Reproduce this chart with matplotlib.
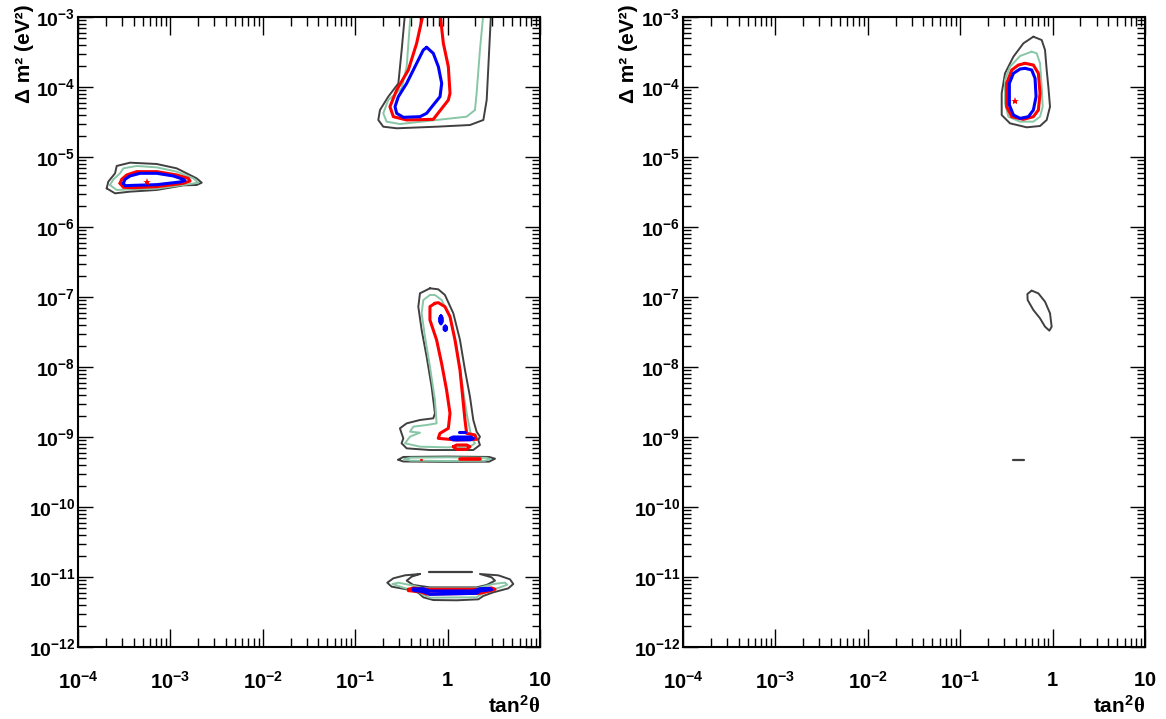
import numpy as np
import matplotlib
matplotlib.use("Agg")
import matplotlib.pyplot as plt
from matplotlib.ticker import LogLocator, FixedLocator, FuncFormatter, NullFormatter

plt.rcParams['font.family'] = ['Liberation Sans', 'DejaVu Sans']
plt.rcParams['font.weight'] = 'bold'
plt.rcParams['mathtext.fontset'] = 'custom'
plt.rcParams['mathtext.rm'] = 'Liberation Serif'
plt.rcParams['mathtext.bf'] = 'Liberation Sans:bold'
plt.rcParams['mathtext.it'] = 'Liberation Sans:italic:bold'
plt.rcParams['mathtext.default'] = 'bf'

# all contour vertices are log10(tan^2 theta), log10(dm^2 / eV^2)

# ---- left panel ----
# small-angle island
sma_black_x = [-3.690, -3.672, -3.599, -3.581, -3.437, -3.148, -2.932, -2.716, -2.661, -2.716, -2.860, -3.148, -3.437, -3.599, -3.690]
sma_black_y = [-5.448, -5.352, -5.233, -5.128, -5.081, -5.100, -5.162, -5.305, -5.367, -5.400, -5.405, -5.471, -5.495, -5.519, -5.448]
sma_green_x = [-3.654, -3.617, -3.545, -3.509, -3.365, -3.148, -2.932, -2.752, -2.698, -2.788, -3.148, -3.437, -3.581, -3.654]
sma_green_y = [-5.400, -5.319, -5.233, -5.162, -5.128, -5.148, -5.209, -5.305, -5.367, -5.386, -5.452, -5.462, -5.471, -5.400]
sma_red_x = [-3.545, -3.527, -3.473, -3.365, -3.148, -2.932, -2.806, -2.788, -2.860, -3.148, -3.401, -3.509, -3.545]
sma_red_y = [-5.376, -5.319, -5.257, -5.209, -5.209, -5.257, -5.305, -5.343, -5.376, -5.424, -5.438, -5.433, -5.376]
sma_blue_x = [-3.509, -3.491, -3.437, -3.329, -3.148, -2.968, -2.860, -2.842, -2.896, -3.148, -3.401, -3.491, -3.509]
sma_blue_y = [-5.376, -5.319, -5.271, -5.233, -5.233, -5.271, -5.319, -5.338, -5.357, -5.395, -5.405, -5.410, -5.376]
sma_best = (-3.250, -5.352)

# large-angle region, open above 1e-3
lma_black_x = [-0.461, -0.497, -0.533, -0.642, -0.732, -0.750, -0.696, -0.551, -0.118, 0.242, 0.387, 0.423, 0.441, 0.459, 0.470]
lma_black_y = [-2.947, -3.471, -3.948, -4.138, -4.329, -4.471, -4.567, -4.590, -4.567, -4.543, -4.471, -4.186, -3.710, -3.233, -2.947]
lma_green_x = [-0.400, -0.443, -0.497, -0.642, -0.696, -0.660, -0.515, -0.118, 0.206, 0.296, 0.314, 0.350, 0.387]
lma_green_y = [-2.947, -3.710, -4.019, -4.186, -4.376, -4.495, -4.529, -4.471, -4.424, -4.329, -4.090, -3.471, -2.947]
lma_red_x = [-0.263, -0.335, -0.425, -0.551, -0.624, -0.587, -0.443, -0.155, 0.008, 0.026, 0.008, -0.046, -0.082]
lma_red_y = [-2.947, -3.376, -3.757, -4.043, -4.281, -4.424, -4.471, -4.462, -4.186, -4.090, -3.710, -3.376, -2.947]
lma_blue_x = [-0.227, -0.155, -0.100, -0.064, -0.082, -0.155, -0.227, -0.299, -0.479, -0.551, -0.569, -0.533, -0.443, -0.335, -0.263, -0.227]
lma_blue_y = [-3.433, -3.519, -3.710, -3.948, -4.138, -4.257, -4.376, -4.424, -4.433, -4.376, -4.281, -4.138, -3.948, -3.662, -3.471, -3.433]

# LOW region tongue
low_black_x = [-0.191, -0.299, -0.317, -0.281, -0.227, -0.173, -0.137, -0.155, -0.299, -0.443, -0.516, -0.498, -0.479, -0.498, -0.443, -0.191,
               0.278, 0.350, 0.332, 0.350, 0.314, 0.278, 0.242, 0.188, 0.134, 0.062, -0.029, -0.101, -0.191]
low_black_y = [-6.876, -6.947, -7.138, -7.471, -7.852, -8.281, -8.662, -8.733, -8.757, -8.805, -8.876, -8.948, -9.019, -9.090, -9.162, -9.186,
               -9.186, -9.114, -9.043, -8.995, -8.924, -8.757, -8.424, -8.043, -7.614, -7.233, -6.971, -6.890, -6.876]
low_green_x = [-0.191, -0.263, -0.281, -0.245, -0.191, -0.137, -0.119, -0.227, -0.371, -0.407, -0.299, -0.407, -0.461, -0.299, -0.011,
               0.242, 0.296, 0.260, 0.242, 0.206, 0.152, 0.098, 0.026, -0.065, -0.137, -0.191]
low_green_y = [-6.971, -7.043, -7.233, -7.567, -7.995, -8.471, -8.805, -8.829, -8.852, -8.924, -8.938, -8.995, -9.090, -9.138, -9.148,
               -9.138, -9.090, -9.019, -8.900, -8.662, -8.186, -7.710, -7.281, -7.043, -6.971, -6.971]
low_red_x = [-0.137, -0.191, -0.191, -0.119, -0.065, -0.011, 0.026, 0.008, -0.083, -0.101, 0.098, 0.314, 0.296, 0.206, 0.188, 0.163,
             0.134, 0.080, 0.026, -0.029, -0.101, -0.137]
low_red_y = [-7.090, -7.138, -7.329, -7.614, -7.948, -8.329, -8.662, -8.876, -8.948, -9.019, -9.043, -9.033, -8.971, -8.948, -8.757, -8.424,
             -8.043, -7.614, -7.281, -7.138, -7.081, -7.090]
low_red_loop_x = [0.062, 0.098, 0.206, 0.242, 0.206, 0.098, 0.062]
low_red_loop_y = [-9.138, -9.114, -9.114, -9.138, -9.176, -9.176, -9.138]
low_blue_blob1_x = [-0.072, -0.058, -0.057, -0.072, -0.086, -0.087, -0.072]
low_blue_blob1_y = [-7.270, -7.300, -7.350, -7.385, -7.350, -7.300, -7.270]
low_blue_blob2_x = [-0.025, -0.012, -0.012, -0.025, -0.038, -0.038, -0.025]
low_blue_blob2_y = [-7.415, -7.430, -7.465, -7.480, -7.465, -7.430, -7.415]
low_blue_bar_x = [0.030, 0.060, 0.250, 0.280, 0.250, 0.060, 0.030]
low_blue_bar_y = [-9.019, -9.000, -9.000, -9.019, -9.040, -9.040, -9.019]
low_blue_dash_x = [0.127, 0.188]
low_blue_dash_y = [-8.924, -8.924]

# thin strip just below 1e-9
strip_black_x = [-0.534, -0.480, 0.000, 0.450, 0.513, 0.450, 0.000, -0.480, -0.534]
strip_black_y = [-9.325, -9.285, -9.279, -9.285, -9.310, -9.352, -9.355, -9.350, -9.325]
strip_green_x = [-0.470, -0.400, 0.000, 0.420, 0.460, 0.400, 0.000, -0.400, -0.470]
strip_green_y = [-9.318, -9.295, -9.290, -9.298, -9.315, -9.340, -9.343, -9.338, -9.318]
strip_red_x = [0.134, 0.350]
strip_red_y = [-9.319, -9.319]
strip_red_dot_x = [-0.286, -0.276]
strip_red_dot_y = [-9.326, -9.326]

# vacuum oscillation region near 1e-11
vac_black_x = [-0.299, -0.461, -0.588, -0.653, -0.606, -0.443, -0.317, -0.263, -0.155, 0.098, 0.332, 0.386, 0.495, 0.657, 0.711, 0.675,
               0.549, 0.350, 0.477, 0.513, 0.422, 0.314, -0.191, -0.371, -0.443, -0.389, -0.299]
vac_black_y = [-10.957, -10.976, -11.019, -11.081, -11.138, -11.176, -11.224, -11.290, -11.329, -11.333, -11.319, -11.271, -11.219, -11.162,
               -11.100, -11.033, -10.976, -10.957, -11.005, -11.052, -11.114, -11.148, -11.148, -11.114, -11.052, -10.995, -10.957]
vac_black_dash_x = [-0.198, 0.260]
vac_black_dash_y = [-10.929, -10.929]
vac_green_x = [-0.595, -0.534, -0.371, -0.263, 0.314, 0.495, 0.621, 0.646, 0.567, 0.422, 0.350, 0.314, -0.191, -0.263, -0.317, -0.479, -0.595]
vac_green_y = [-11.100, -11.081, -11.124, -11.162, -11.162, -11.100, -11.081, -11.110, -11.148, -11.210, -11.257, -11.290, -11.295, -11.257,
               -11.210, -11.152, -11.100]
vac_red_x = [-0.425, -0.371, -0.227, 0.350, 0.477, 0.513, 0.458, 0.350, -0.227, -0.299, -0.425, -0.425]
vac_red_y = [-11.176, -11.157, -11.176, -11.176, -11.157, -11.176, -11.200, -11.233, -11.243, -11.210, -11.195, -11.176]
vac_blue_x = [-0.371, -0.263, -0.191, 0.278, 0.350, 0.458, 0.477, 0.350, 0.314, -0.191, -0.263, -0.371, -0.371]
vac_blue_y = [-11.171, -11.167, -11.200, -11.200, -11.167, -11.162, -11.181, -11.200, -11.233, -11.248, -11.210, -11.190, -11.171]

# ---- right panel ----
r_lma_black_x = [-0.208, -0.118, -0.082, -0.064, -0.046, -0.028, -0.064, -0.136, -0.280, -0.461, -0.551, -0.551, -0.515, -0.424, -0.316, -0.208]
r_lma_black_y = [-3.281, -3.329, -3.471, -3.757, -3.995, -4.281, -4.471, -4.557, -4.576, -4.519, -4.400, -4.090, -3.805, -3.567, -3.376, -3.281]
r_lma_green_x = [-0.226, -0.172, -0.136, -0.118, -0.107, -0.136, -0.208, -0.352, -0.479, -0.515, -0.515, -0.461, -0.352, -0.226]
r_lma_green_y = [-3.495, -3.519, -3.662, -3.995, -4.281, -4.424, -4.495, -4.495, -4.424, -4.233, -3.900, -3.710, -3.557, -3.495]
r_lma_red_x = [-0.298, -0.208, -0.154, -0.136, -0.154, -0.208, -0.316, -0.442, -0.497, -0.497, -0.442, -0.370, -0.298]
r_lma_red_y = [-3.662, -3.686, -3.805, -4.090, -4.329, -4.424, -4.462, -4.424, -4.281, -3.948, -3.757, -3.686, -3.662]
r_lma_blue_x = [-0.298, -0.226, -0.190, -0.179, -0.208, -0.262, -0.352, -0.424, -0.468, -0.468, -0.424, -0.352, -0.298]
r_lma_blue_y = [-3.733, -3.757, -3.876, -4.138, -4.329, -4.424, -4.448, -4.400, -4.257, -3.948, -3.805, -3.743, -3.733]
r_best = (-0.406, -4.195)
r_low_black_x = [-0.226, -0.154, -0.082, -0.028, -0.010, -0.035, -0.082, -0.136, -0.208, -0.270, -0.273, -0.226]
r_low_black_y = [-6.909, -6.948, -7.067, -7.233, -7.424, -7.481, -7.424, -7.305, -7.186, -7.043, -6.957, -6.909]
r_dash_x = [-0.432, -0.309]
r_dash_y = [-9.329, -9.329]

BLACK = '#404040'
GREEN = '#88c6a6'
RED = '#ff0000'
BLUE = '#0000ff'


def draw(ax, xs, ys, color, lw):
    ax.plot(np.power(10.0, xs), np.power(10.0, ys), color=color, lw=lw,
            solid_joinstyle='round', solid_capstyle='round')


def dec_label(v, pos):
    e = int(round(np.log10(v)))
    if e == 0:
        return r'$1$'
    if e == 1:
        return r'$10$'
    return r'$10^{%d}$' % e


fig = plt.figure(figsize=(11.66, 7.19), dpi=100)
W, H = 1166.0, 719.0
ax_l = fig.add_axes([78 / W, 1 - 647 / H, 462 / W, 630 / H])
ax_r = fig.add_axes([683 / W, 1 - 647 / H, 462 / W, 630 / H])

for ax in (ax_l, ax_r):
    ax.set_xscale('log')
    ax.set_yscale('log')
    ax.set_xlim(1e-4, 10)
    ax.set_ylim(1e-12, 1e-3)
    ax.xaxis.set_major_locator(FixedLocator([1e-4, 1e-3, 1e-2, 1e-1, 1, 10]))
    ax.yaxis.set_major_locator(FixedLocator([10.0 ** e for e in range(-12, -2)]))
    ax.xaxis.set_minor_locator(LogLocator(base=10, subs=np.arange(2, 10), numticks=20))
    ax.yaxis.set_minor_locator(LogLocator(base=10, subs=np.arange(2, 10), numticks=20))
    ax.xaxis.set_major_formatter(FuncFormatter(dec_label))
    ax.yaxis.set_major_formatter(FuncFormatter(dec_label))
    ax.xaxis.set_minor_formatter(NullFormatter())
    ax.yaxis.set_minor_formatter(NullFormatter())
    ax.tick_params(which='both', direction='in', top=True, right=True, width=1.0, color='black')
    ax.tick_params(axis='x', which='major', length=13, pad=17, labelsize=14.5)
    ax.tick_params(axis='x', which='minor', length=6.5)
    ax.tick_params(axis='y', which='major', length=11, pad=2, labelsize=14)
    ax.tick_params(axis='y', which='minor', length=5.8)
    for s in ax.spines.values():
        s.set_linewidth(1.5)

# left panel
draw(ax_l, sma_black_x, sma_black_y, BLACK, 1.4)
draw(ax_l, sma_green_x, sma_green_y, GREEN, 1.4)
draw(ax_l, sma_red_x, sma_red_y, RED, 2.2)
draw(ax_l, sma_blue_x, sma_blue_y, BLUE, 2.2)
ax_l.plot(10 ** sma_best[0], 10 ** sma_best[1], marker='*', color=RED, ms=6, mew=0, zorder=5)

draw(ax_l, lma_black_x, lma_black_y, BLACK, 1.4)
draw(ax_l, lma_green_x, lma_green_y, GREEN, 1.4)
draw(ax_l, lma_red_x, lma_red_y, RED, 2.2)
draw(ax_l, lma_blue_x, lma_blue_y, BLUE, 2.2)

draw(ax_l, low_black_x, low_black_y, BLACK, 1.4)
draw(ax_l, low_green_x, low_green_y, GREEN, 1.4)
draw(ax_l, low_red_x, low_red_y, RED, 2.2)
draw(ax_l, low_red_loop_x, low_red_loop_y, RED, 2.2)
draw(ax_l, low_blue_blob1_x, low_blue_blob1_y, BLUE, 2.2)
draw(ax_l, low_blue_blob2_x, low_blue_blob2_y, BLUE, 2.2)
draw(ax_l, low_blue_bar_x, low_blue_bar_y, BLUE, 2.2)
draw(ax_l, low_blue_dash_x, low_blue_dash_y, BLUE, 2.2)

draw(ax_l, strip_black_x, strip_black_y, BLACK, 1.4)
draw(ax_l, strip_green_x, strip_green_y, GREEN, 1.4)
draw(ax_l, strip_red_x, strip_red_y, RED, 2.6)
draw(ax_l, strip_red_dot_x, strip_red_dot_y, RED, 1.5)

draw(ax_l, vac_black_x, vac_black_y, BLACK, 1.4)
draw(ax_l, vac_black_dash_x, vac_black_dash_y, BLACK, 1.6)
draw(ax_l, vac_green_x, vac_green_y, GREEN, 1.4)
draw(ax_l, vac_red_x, vac_red_y, RED, 2.2)
draw(ax_l, vac_blue_x, vac_blue_y, BLUE, 2.2)

# right panel
draw(ax_r, r_lma_black_x, r_lma_black_y, BLACK, 1.4)
draw(ax_r, r_lma_green_x, r_lma_green_y, GREEN, 1.4)
draw(ax_r, r_lma_red_x, r_lma_red_y, RED, 2.2)
draw(ax_r, r_lma_blue_x, r_lma_blue_y, BLUE, 2.2)
ax_r.plot(10 ** r_best[0], 10 ** r_best[1], marker='*', color=RED, ms=6, mew=0, zorder=5)
draw(ax_r, r_low_black_x, r_low_black_y, BLACK, 1.4)
draw(ax_r, r_dash_x, r_dash_y, BLACK, 1.6)

# axis titles
ylab = 'Δ m² (eV²)'
xlab = r'tan$^{2}$$\mathrm{\theta}$'
for x_left, x_right in ((24, 540), (629, 1145)):
    fig.text(x_left / W, 1 - 4 / H, ylab, rotation=90, ha='center', va='top', fontsize=15)
    fig.text(x_right / W, 1 - 713 / H, xlab, ha='right', va='baseline', fontsize=15)

fig.savefig('out.png', dpi=100)
